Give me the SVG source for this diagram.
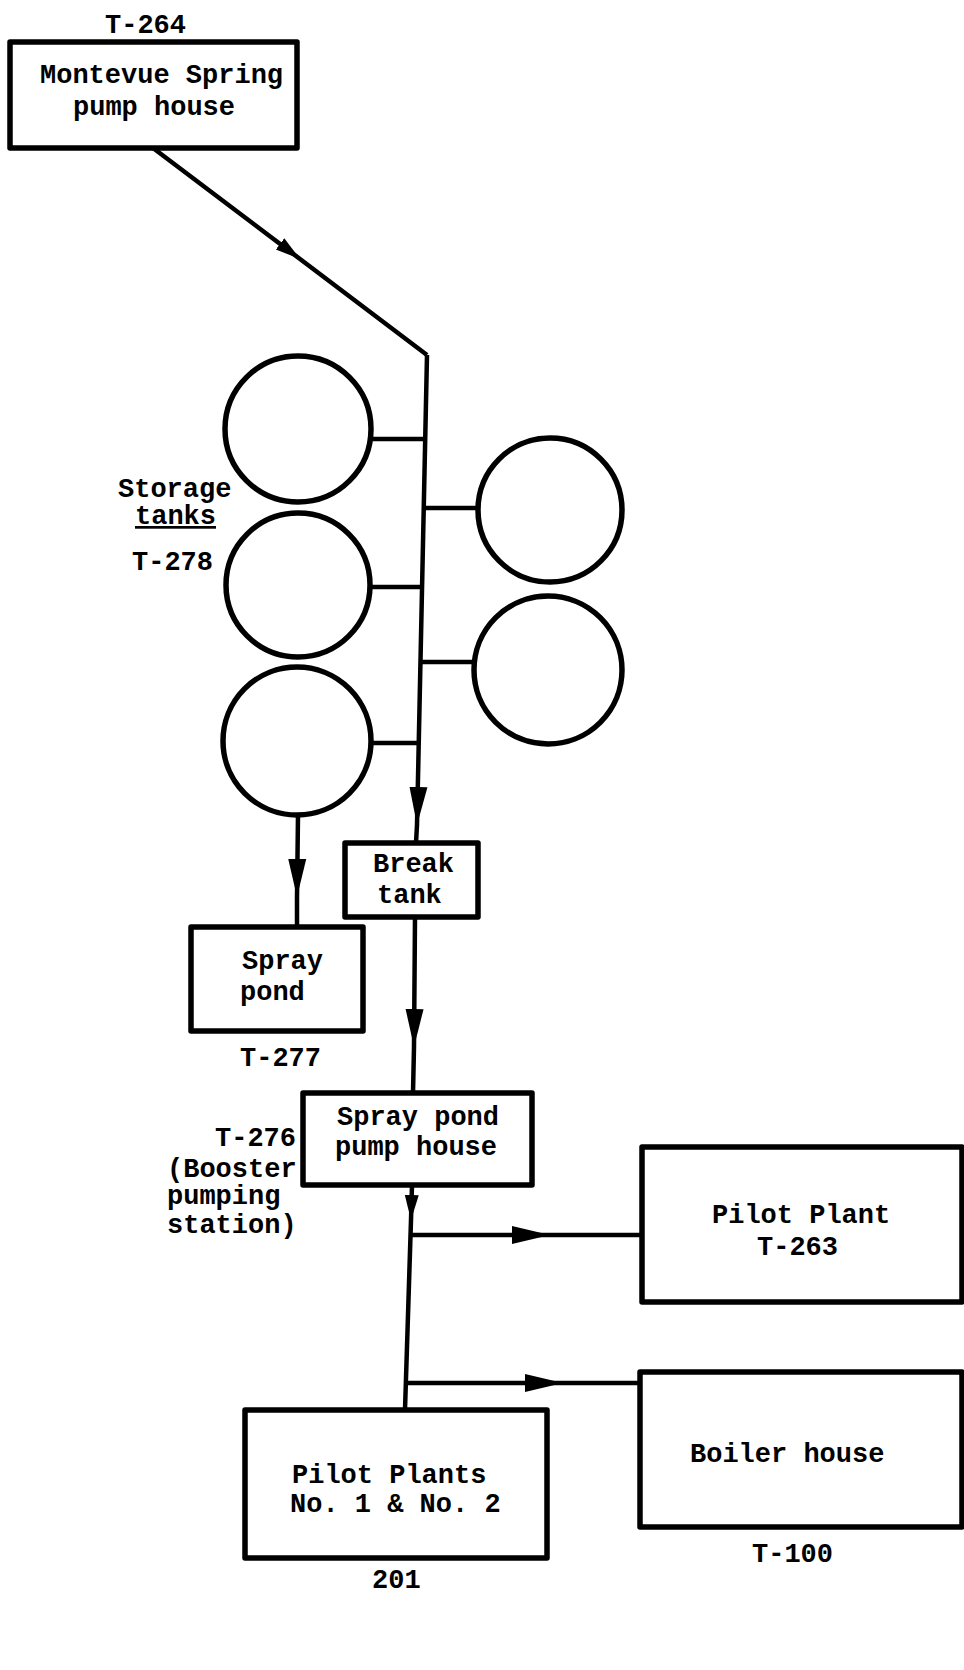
<svg xmlns="http://www.w3.org/2000/svg" width="964" height="1670" viewBox="0 0 964 1670">
<style>
.box{fill:#fff;stroke:#000;stroke-width:5.5;stroke-linejoin:round}
.tank{fill:none;stroke:#000;stroke-width:5.5}
.pipe{fill:none;stroke:#000;stroke-width:4.5;stroke-linejoin:round}
.t{font-family:"Liberation Mono","DejaVu Sans Mono",monospace;font-size:27px;font-weight:bold;fill:#000}
</style>
<defs>
<marker id="arr" markerUnits="userSpaceOnUse" markerWidth="40" markerHeight="20" viewBox="0 0 40 20" refX="38" refY="10" orient="auto">
<path d="M0,1 L38,10 L0,19 z" fill="#000"/>
</marker>
<marker id="arrs" markerUnits="userSpaceOnUse" markerWidth="26" markerHeight="16" viewBox="0 0 26 16" refX="25" refY="8" orient="auto">
<path d="M0,1 L25,8 L0,15 z" fill="#000"/>
</marker>
</defs>
<rect width="964" height="1670" fill="#fff"/>

<g id="connectors">
<path class="pipe" d="M153,148 L300,259 L427,355" marker-mid="url(#arrs)"/>
<path class="pipe" d="M427,355 L417,825 L416,843" marker-mid="url(#arr)"/>
<path class="pipe" d="M371,439 L424,439"/>
<path class="pipe" d="M423,508 L478,508"/>
<path class="pipe" d="M371,587 L420,587"/>
<path class="pipe" d="M419,662 L474,662"/>
<path class="pipe" d="M371,743 L417,743"/>
<path class="pipe" d="M298,815 L297,897 L297,927" marker-mid="url(#arr)"/>
<path class="pipe" d="M415,917 L414,1047 L413,1093" marker-mid="url(#arr)"/>
<path class="pipe" d="M412,1185 L411,1220 L405,1410" marker-mid="url(#arrs)"/>
<path class="pipe" d="M411,1235 L550,1235 L642,1235" marker-mid="url(#arr)"/>
<path class="pipe" d="M406,1383 L563,1383 L640,1383" marker-mid="url(#arr)"/>
</g>

<g id="montevue">
<text class="t" x="105" y="33" font-weight="normal">T-264</text>
<rect class="box" x="10" y="42" width="287" height="106"/>
<text class="t" x="40" y="83">Montevue Spring</text>
<text class="t" x="73" y="115">pump house</text>
</g>

<g id="storage-tanks">
<circle class="tank" cx="298" cy="429" r="73"/>
<circle class="tank" cx="298" cy="585" r="72"/>
<circle class="tank" cx="297" cy="741" r="74"/>
<circle class="tank" cx="550" cy="510" r="72"/>
<circle class="tank" cx="548" cy="670" r="74"/>
<text class="t" x="118" y="497">Storage</text>
<text class="t" x="135" y="524" text-decoration="underline">tanks</text>
<text class="t" x="132" y="570">T-278</text>
</g>

<g id="break-tank">
<rect class="box" x="345" y="843" width="133" height="74"/>
<text class="t" x="373" y="872">Break</text>
<text class="t" x="377" y="903">tank</text>
</g>

<g id="spray-pond">
<rect class="box" x="191" y="927" width="172" height="104"/>
<text class="t" x="242" y="969">Spray</text>
<text class="t" x="240" y="1000">pond</text>
<text class="t" x="240" y="1066">T-277</text>
</g>

<g id="spray-pond-pump-house">
<rect class="box" x="303" y="1093" width="229" height="92"/>
<text class="t" x="337" y="1125">Spray pond</text>
<text class="t" x="335" y="1155">pump house</text>
<text class="t" x="215" y="1146">T-276</text>
<text class="t" x="167" y="1177">(Booster</text>
<text class="t" x="167" y="1204">pumping</text>
<text class="t" x="167" y="1233">station)</text>
</g>

<g id="pilot-plant-t263">
<rect class="box" x="642" y="1147" width="320" height="155"/>
<text class="t" x="712" y="1223">Pilot Plant</text>
<text class="t" x="757" y="1255">T-263</text>
</g>

<g id="boiler-house">
<rect class="box" x="640" y="1372" width="322" height="155"/>
<text class="t" x="690" y="1462">Boiler house</text>
<text class="t" x="752" y="1562">T-100</text>
</g>

<g id="pilot-plants-201">
<rect class="box" x="245" y="1410" width="302" height="148"/>
<text class="t" x="292" y="1483">Pilot Plants</text>
<text class="t" x="290" y="1512">No. 1 &amp; No. 2</text>
<text class="t" x="372" y="1588">201</text>
</g>
</svg>
